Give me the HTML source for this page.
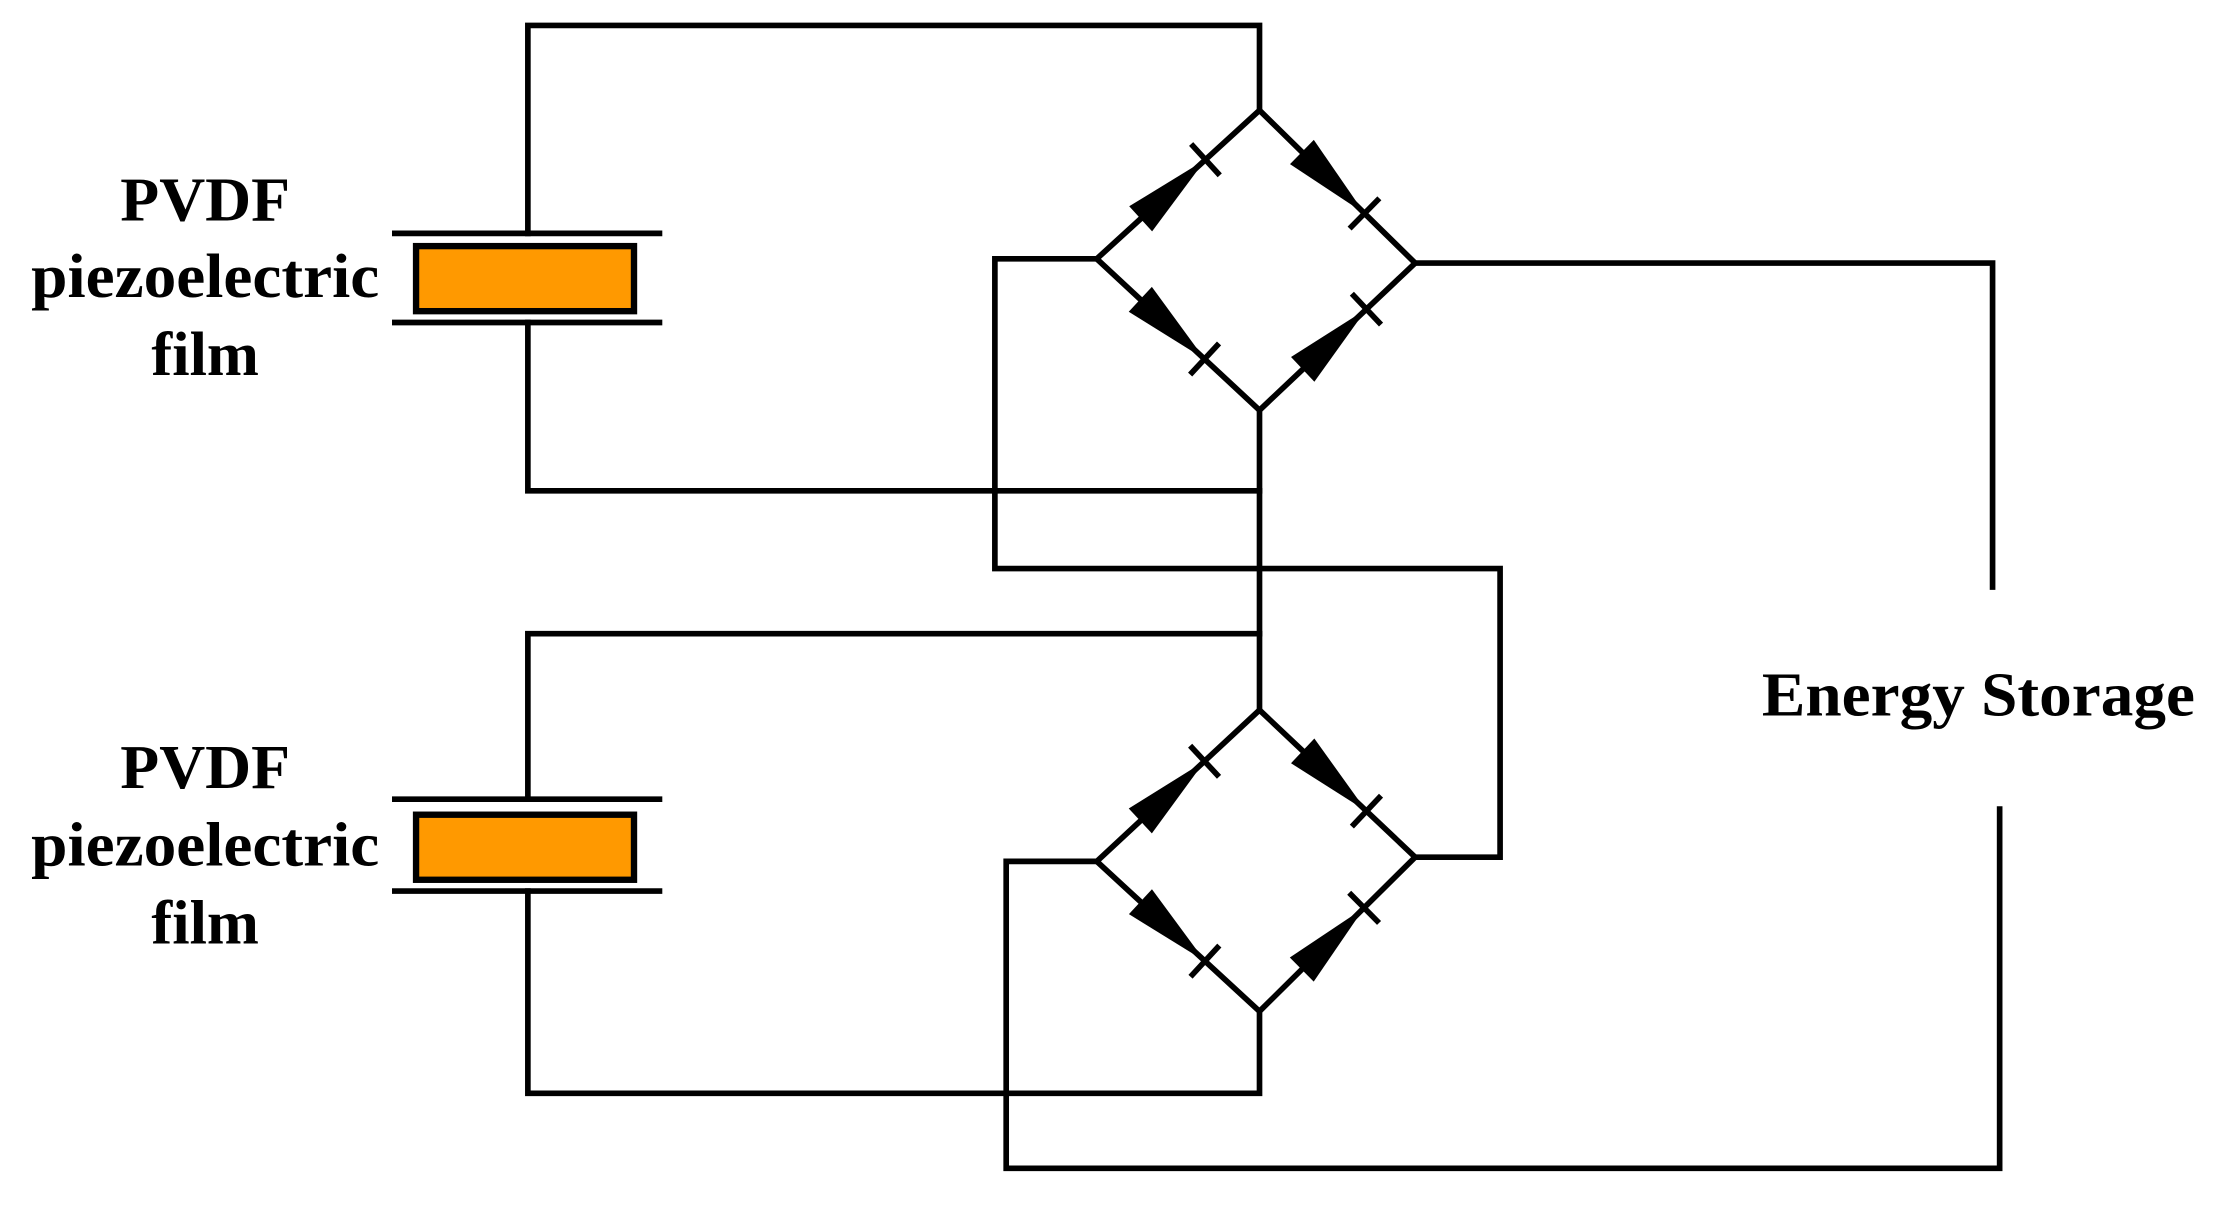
<!DOCTYPE html>
<html><head><meta charset="utf-8"><style>
html,body{margin:0;padding:0;background:#fff;}
svg{display:block;}
</style></head><body>
<svg width="2219" height="1215" viewBox="0 0 1568 859" preserveAspectRatio="none" xmlns="http://www.w3.org/2000/svg">
<defs>
<g id="d">
<polygon points="42,-12 42,12 104,0" fill="#000"/>
<line x1="104" y1="-15" x2="104" y2="15" stroke="#000" stroke-width="4"/>
</g>
</defs>
<g fill="none" stroke="#000" stroke-width="4" stroke-linecap="square">
<polyline points="373,165 373,18 890,18 890,78"/>
<polyline points="373,228 373,347 890,347"/>
<line x1="890" y1="290" x2="890" y2="502"/>
<polygon points="775,183 890,78 1000,186 890,290"/>
<polyline points="775,183 703,183 703,402 1060,402 1060,606 1000,606"/>
<polyline points="1000,186 1408,186 1408,415"/>
<polyline points="373,565 373,448 890,448"/>
<polyline points="373,630 373,773 890,773 890,715"/>
<polygon points="775,609 890,502 1000,606 890,715"/>
<polyline points="775,609 711,609 711,826 1413,826 1413,572"/>
<line x1="279" y1="165" x2="466" y2="165"/>
<line x1="279" y1="228" x2="466" y2="228"/>
<line x1="279" y1="565" x2="466" y2="565"/>
<line x1="279" y1="630" x2="466" y2="630"/>
</g>
<rect x="294" y="174" width="154" height="46" fill="#FF9900" stroke="#000" stroke-width="4.5"/>
<rect x="294" y="576" width="154" height="46" fill="#FF9900" stroke="#000" stroke-width="4.5"/>
<use href="#d" transform="translate(775,183) rotate(-42.4)"/>
<use href="#d" transform="translate(890,78) rotate(44.5)"/>
<use href="#d" transform="translate(775,183) rotate(42.9)"/>
<use href="#d" transform="translate(890,290) rotate(-43.4)"/>
<use href="#d" transform="translate(775,609) rotate(-42.9)"/>
<use href="#d" transform="translate(890,502) rotate(43.4)"/>
<use href="#d" transform="translate(775,609) rotate(42.7)"/>
<use href="#d" transform="translate(890,715) rotate(-44.7)"/>
<g font-family="Liberation Serif, serif" font-weight="bold" font-size="44" fill="#000" text-anchor="middle">
<text x="145" y="156" textLength="120" lengthAdjust="spacingAndGlyphs">PVDF</text>
<text x="145" y="210" textLength="246" lengthAdjust="spacingAndGlyphs">piezoelectric</text>
<text x="145" y="265" textLength="76" lengthAdjust="spacingAndGlyphs">film</text>
<text x="145" y="557" textLength="120" lengthAdjust="spacingAndGlyphs">PVDF</text>
<text x="145" y="612" textLength="246" lengthAdjust="spacingAndGlyphs">piezoelectric</text>
<text x="145" y="667" textLength="76" lengthAdjust="spacingAndGlyphs">film</text>
<text x="1398" y="506" textLength="306" lengthAdjust="spacingAndGlyphs">Energy Storage</text>
</g>
</svg>
</body></html>
